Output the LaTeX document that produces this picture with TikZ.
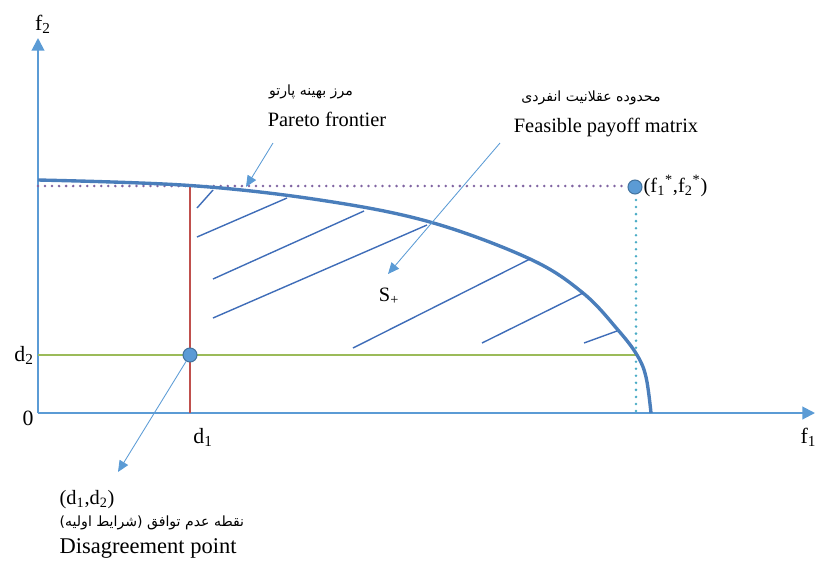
\documentclass[tikz,border=0pt]{standalone}
\usepackage{fontspec}
\setmainfont{Liberation Serif}
\newfontfamily\fafont[Script=Arabic]{DejaVu Sans}
\TeXXeTstate=1
\usepackage{tikz}
\usetikzlibrary{arrows.meta}
\definecolor{axisblue}{HTML}{5B9BD5}
\definecolor{curveblue}{HTML}{4A7EBB}
\definecolor{hatchblue}{HTML}{3F6DB8}
\definecolor{redline}{HTML}{C0504D}
\definecolor{greenline}{HTML}{9BBB59}
\definecolor{purpledot}{HTML}{8064A2}
\definecolor{cyandot}{HTML}{4BACC6}
\definecolor{dotrim}{HTML}{41719C}
\tikzset{
  axisline/.style={axisblue,line width=1.4pt,-{Triangle[length=9pt,width=9pt]}},
  frontier/.style={curveblue,line width=2.4pt},
  hatchline/.style={hatchblue,line width=1pt},
  pointer/.style={axisblue,line width=0.6pt,-{Triangle[length=8pt,width=7pt]}},
  dotpoint/.style={circle,fill=axisblue,draw=dotrim,line width=0.7pt,minimum size=10pt,inner sep=0pt},
  label/.style={inner sep=1pt,font=\fontsize{14.5}{16}\selectfont},
  axislabel/.style={inner sep=1pt,font=\fontsize{15.5}{17}\selectfont},
  falabel/.style={inner sep=1pt,font=\fafont\fontsize{10}{12}\selectfont}
}
\begin{document}
\begin{tikzpicture}[x=0.025cm,y=-0.025cm]
\useasboundingbox (0,0) rectangle (815,562);
\coordinate (o) at (38,413);
\coordinate (ytop) at (38,38);
\coordinate (xend) at (815,413);
\draw[axisline] (o)--(ytop);
\draw[axisline] (o)--(xend);
\node[axislabel] (f2lab) at (43,24) {f\textsubscript{2}};
\node[axislabel,anchor=west] (f1lab) at (799,437) {f\textsubscript{1}};
\node[axislabel] (zero) at (28,418) {0};
\node[axislabel] (d2lab) at (24,355) {d\textsubscript{2}};
\node[axislabel] (d1lab) at (203,437) {d\textsubscript{1}};
\coordinate (pleft) at (38,186);
\coordinate (gleft) at (38,355);
\coordinate (gright) at (637,355);
\coordinate (rtop) at (190,185.5);
\coordinate (rbot) at (190,413);
\coordinate (cbot) at (636,413);
\draw[purpledot,line width=2pt,line cap=round,dash pattern=on 0pt off 5pt] (pleft)--(628,186);
\draw[cyandot,line width=2pt,line cap=round,dash pattern=on 0pt off 5pt] (636,193)--(cbot);
\draw[greenline,line width=2.1pt] (gleft)--(gright);
\draw[redline,line width=2.1pt] (rtop)--(rbot);
\draw[frontier] plot[smooth,tension=0.6] coordinates {(38,180) (190,185.5) (320,200) (430,222) (530,259) (583,293) (618,330) (637,355) (646,377) (651,413)};
\draw[hatchline] (197,208)--(213,190);
\draw[hatchline] (197,237)--(287,198);
\draw[hatchline] (213,279)--(364,211);
\draw[hatchline] (213,318)--(427,225);
\draw[hatchline] (353,348)--(530,259);
\draw[hatchline] (482,343)--(583,293);
\draw[hatchline] (584,343)--(617,331);
\node[dotpoint] (dpt) at (190,355) {};
\node[dotpoint] (fstar) at (635,187) {};
\node[label,anchor=west] (fstarlab) at (642,186) {(f\textsubscript{1}\textsuperscript{*},f\textsubscript{2}\textsuperscript{*})};
\node[falabel] (parfa) at (311,92) {\fafont\beginR مرز بهینه پارتو\endR};
\node[label] (parlab) at (327,119) {Pareto frontier};
\node[falabel] (feasfa) at (591,98) {\fafont\beginR محدوده عقلانیت انفردی\endR};
\node[label] (feaslab) at (606,128) {Feasible payoff matrix};
\node[label] (splus) at (389,296) {S\textsubscript{+}};
\node[label,anchor=west] (dlab) at (58,500) {(d\textsubscript{1},d\textsubscript{2})};
\node[falabel,anchor=west] (disfa) at (58,523) {\fafont\beginR نقطه عدم توافق (شرایط اولیه)\endR};
\node[label,anchor=west,font=\fontsize{16}{18}\selectfont] (dislab) at (58,548) {Disagreement point};
\coordinate (partail) at (273,143);
\coordinate (partip) at (246,187);
\coordinate (feastail) at (500,143);
\coordinate (feastip) at (388,274);
\coordinate (distip) at (118,472);
\draw[pointer] (partail)--(partip);
\draw[pointer] (feastail)--(feastip);
\draw[pointer] (dpt)--(distip);
\end{tikzpicture}
\end{document}
